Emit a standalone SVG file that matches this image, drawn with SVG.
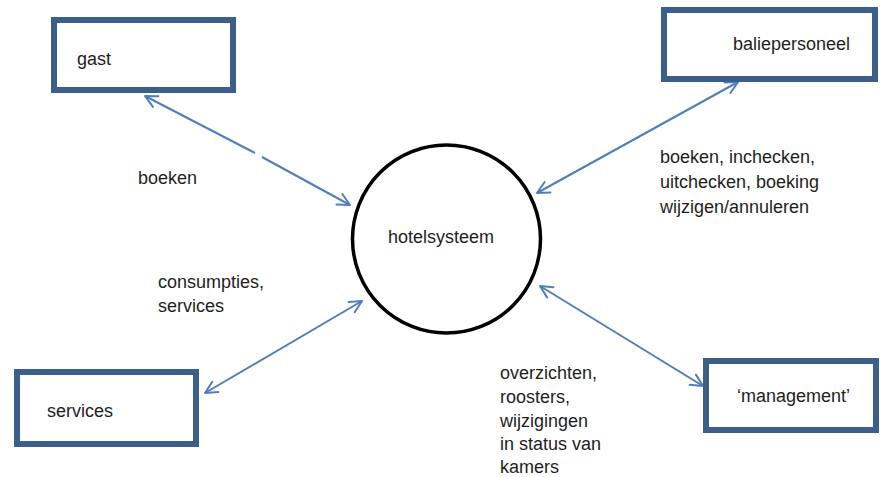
<svg xmlns="http://www.w3.org/2000/svg" width="880" height="477" viewBox="0 0 880 477">
<style>
.box{fill:#fff;stroke:#3b5f8a;stroke-width:6}
.t{font-family:"Liberation Sans",Arial,sans-serif;font-size:18px;fill:#1e1e1e}
.c{fill:none;stroke:#4f7fbb;stroke-width:2}
</style>
<defs>
<marker id="ah" viewBox="-14 -8 16 16" refX="0" refY="0" markerWidth="16" markerHeight="16" markerUnits="userSpaceOnUse" orient="auto-start-reverse">
<path d="M-12,-6 L0,0 L-12,6" fill="none" stroke="#4f7fbb" stroke-width="2" stroke-linecap="round" stroke-linejoin="round"/>
</marker>
</defs>
<rect width="880" height="477" fill="#fff"/>
<g id="connectors">
<path class="c" d="M145,96 L255,153" marker-start="url(#ah)"/>
<path class="c" d="M262,157 L350,205" marker-end="url(#ah)"/>
<path class="c" d="M537,193 L738,82" marker-start="url(#ah)" marker-end="url(#ah)"/>
<path class="c" d="M205,393 L362,301" marker-start="url(#ah)" marker-end="url(#ah)"/>
<path class="c" d="M540,286 L703,386" marker-start="url(#ah)" marker-end="url(#ah)"/>
</g>
<g id="gast">
<rect class="box" x="54" y="20" width="179" height="70"/>
<text class="t" x="77" y="65">gast</text>
</g>
<g id="baliepersoneel">
<rect class="box" x="664" y="10" width="211" height="69"/>
<text class="t" x="733" y="50">baliepersoneel</text>
</g>
<g id="services">
<rect class="box" x="17" y="372" width="179" height="72"/>
<text class="t" x="47" y="417">services</text>
</g>
<g id="management">
<rect class="box" x="706" y="361" width="170" height="69"/>
<text class="t" x="737" y="402">‘management’</text>
</g>
<g id="hotelsysteem">
<circle cx="446.5" cy="239" r="94" fill="#fff" stroke="#000" stroke-width="3.5"/>
<text class="t" x="388" y="243">hotelsysteem</text>
</g>
<g id="labels">
<text class="t" x="138" y="184">boeken</text>
<text class="t" x="660" y="163">boeken, inchecken,</text>
<text class="t" x="660" y="188">uitchecken, boeking</text>
<text class="t" x="660" y="213">wijzigen/annuleren</text>
<text class="t" x="158" y="288">consumpties,</text>
<text class="t" x="158" y="312">services</text>
<text class="t" x="500" y="379">overzichten,</text>
<text class="t" x="500" y="403">roosters,</text>
<text class="t" x="500" y="427">wijzigingen</text>
<text class="t" x="500" y="450">in status van</text>
<text class="t" x="500" y="473">kamers</text>
</g>
</svg>
